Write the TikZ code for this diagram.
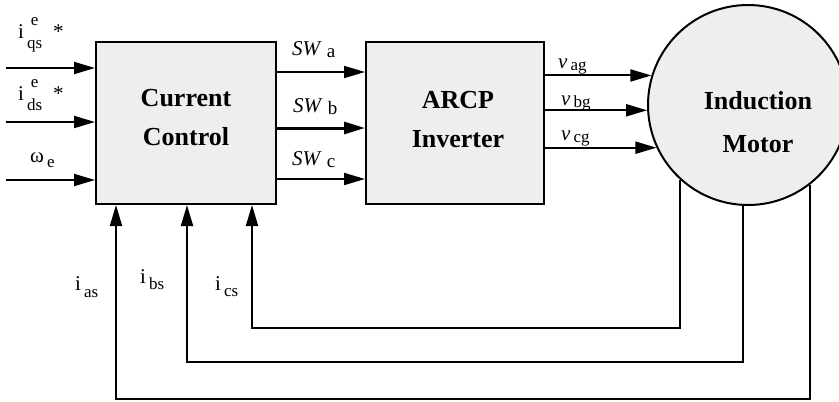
\documentclass[tikz,border=0pt]{standalone}
\usepackage{fontspec}
\setmainfont{Liberation Serif}
\usetikzlibrary{arrows.meta,positioning}
\definecolor{blockGray}{HTML}{EEEEEE}
\newcommand{\subfont}{\fontsize{17}{17}\selectfont}
\newcommand{\sgl}[3][-6pt]{#2\hspace{3pt}\raisebox{#1}{\subfont #3}}
\newcommand{\swsig}[1]{\textit{SW}\hspace{5pt}\raisebox{-2pt}{\fontsize{19}{19}\selectfont #1}}
\newcommand{\refsig}[3]{#1\hspace{3pt}\raisebox{-10pt}{\subfont\begin{tabular}[b]{@{}c@{}}#2\\[6pt]#3\end{tabular}}\hspace{11pt}*}

\begin{document}
\begin{tikzpicture}[x=1pt,y=-1pt,>={Triangle[length=21pt,width=12pt]},
    block/.style={draw,line width=2pt,fill=blockGray,minimum width=180pt,minimum height=162pt},
    btext/.style={font=\fontsize{26}{39}\selectfont\bfseries,align=center},
    sig/.style={->,line width=2pt},
    lbl/.style={anchor=base west,inner sep=0pt,font=\fontsize{21}{21}\selectfont}]
  \useasboundingbox (0,0) rectangle (839,402);

  \node[block] (cc) at (186,123) {};
  \node[btext] (cctxt) at ([yshift=5pt]cc.center) {Current\\Control};
  \node[block,minimum width=178pt] (inv) at (455,123) {};
  \node[btext] (invtxt) at ([xshift=3pt,yshift=3pt]inv.center) {ARCP\\Inverter};
  \node[draw,circle,line width=2pt,fill=blockGray,minimum size=200pt,inner sep=0pt] (im) at (748,105) {};
  \node[btext,font=\fontsize{26}{43}\selectfont\bfseries] (imtxt) at (758,122) {Induction\\Motor};

  % reference inputs
  \coordinate (qs) at (6,68);
  \coordinate (ds) at (6,122);
  \coordinate (we) at (6,180);
  \foreach \c in {qs,ds,we}
    \draw[sig] (\c) -- (\c -| cc.west);
  \node[lbl] (lqs) at (18,38) {\refsig{i}{e}{qs}};
  \node[lbl] (lds) at (18,100) {\refsig{i}{e}{ds}};
  \node[lbl] (lwe) at (30,162) {\sgl[-5pt]{ω}{e}};

  % switching signals
  \foreach \s/\w in {51/2pt,-5/3pt,-56/2pt}
    \draw[sig,line width=\w] ([yshift=\s]cc.east) -- ([yshift=\s]inv.west);
  \node[lbl] (lswa) at (292,55) {\swsig{a}};
  \node[lbl] (lswb) at (293,112) {\swsig{b}};
  \node[lbl] (lswc) at (292,165) {\swsig{c}};

  % phase voltages
  \foreach \a in {163.7,183.4,205.5}
    \draw[sig] (inv.east |- im.\a) -- (im.\a);
  \node[lbl] (lvag) at (558,68) {\sgl[-2pt]{\textit{v}}{ag}};
  \node[lbl] (lvbg) at (561,105) {\sgl[-2pt]{\textit{v}}{bg}};
  \node[lbl] (lvcg) at (561,140) {\sgl[-2pt]{\textit{v}}{cg}};

  % measured currents
  \coordinate (fa) at (116,399);
  \coordinate (fb) at (187,362);
  \coordinate (fc) at (252,328);
  \draw[sig] (im.308.3) |- (fa) -- (fa |- cc.south);
  \draw[sig] (im.267.7) |- (fb) -- (fb |- cc.south);
  \draw[sig] (im.228.7) |- (fc) -- (fc |- cc.south);
  \node[lbl] (lias) at (75,290) {\sgl[-7pt]{i}{as}};
  \node[lbl] (libs) at (140,283) {\sgl[-6pt]{i}{bs}};
  \node[lbl] (lics) at (215,290) {\sgl[-6pt]{i}{cs}};
\end{tikzpicture}
\end{document}
